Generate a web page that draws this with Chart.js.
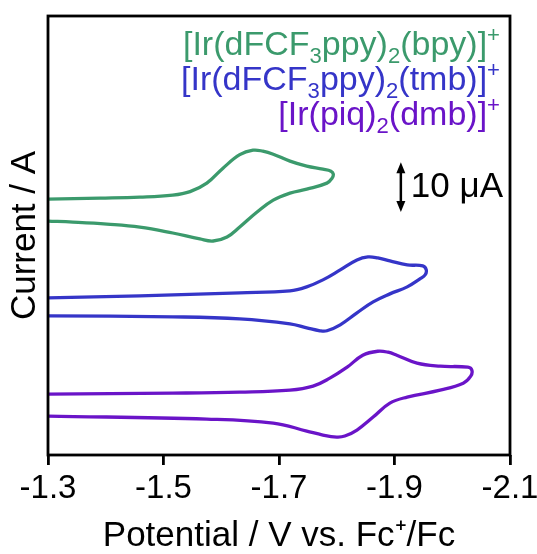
<!DOCTYPE html>
<html>
<head>
<meta charset="utf-8">
<script src="https://cdn.jsdelivr.net/npm/chart.js@4"></script>
<style>
  html, body { margin: 0; padding: 0; background: #fff; }
  #wrap { width: 537px; height: 554px; }
</style>
</head>
<body>
<div id="wrap"><canvas id="cvChart"></canvas></div>
<script>
// potential (V vs Fc+/Fc) and current (uA, offset for stacking)
const potentialBpy = [-1.300,-1.390,-1.459,-1.516,-1.546,-1.575,-1.603,-1.632,-1.655,-1.672,-1.690,-1.719,-1.748,-1.776,-1.790,-1.794,-1.792,-1.783,-1.748,-1.719,-1.690,-1.662,-1.632,-1.610,-1.586,-1.563,-1.516,-1.459,-1.402,-1.343,-1.300];
const currentBpy   = [51.3,51.5,51.7,52.1,52.8,54.5,57.5,60.2,61.1,60.9,60.3,58.9,57.9,57.3,56.9,56.3,55.5,54.5,53.3,52.5,51.1,48.7,45.7,43.7,42.9,43.3,44.5,45.7,46.3,46.7,46.9];

const potentialTmb = [-1.300,-1.459,-1.632,-1.719,-1.748,-1.776,-1.806,-1.835,-1.854,-1.871,-1.892,-1.922,-1.949,-1.955,-1.953,-1.944,-1.922,-1.892,-1.863,-1.835,-1.806,-1.783,-1.771,-1.748,-1.719,-1.632,-1.516,-1.300];
const currentTmb   = [31.5,31.9,32.5,32.9,33.7,35.1,37.1,39.1,39.7,39.5,38.9,38.1,37.9,37.1,36.1,35.3,33.7,32.3,30.7,28.5,26.1,24.9,24.9,25.5,26.3,27.3,27.7,27.9];

const potentialDmb = [-1.300,-1.516,-1.632,-1.719,-1.759,-1.788,-1.818,-1.845,-1.871,-1.889,-1.904,-1.939,-1.979,-2.027,-2.034,-2.032,-2.019,-1.979,-1.922,-1.892,-1.863,-1.835,-1.814,-1.800,-1.776,-1.748,-1.690,-1.575,-1.300];
const currentDmb   = [12.2,12.4,12.6,13.0,13.8,15.4,17.6,20.0,20.8,20.6,20.0,18.4,17.8,17.6,17.0,15.8,14.4,13.0,11.6,10.4,7.6,5.0,3.8,3.6,4.0,4.8,6.4,7.2,7.8];

const seriesColors = ['#3b9a6c', '#3535c8', '#6a14c8'];
// legend labels as [text, 'sub' | 'sup' | ''] pieces
const seriesLabels = [
  [['[Ir(dFCF',''],['3','sub'],['ppy)',''],['2','sub'],['(bpy)]',''],['+','sup']],
  [['[Ir(dFCF',''],['3','sub'],['ppy)',''],['2','sub'],['(tmb)]',''],['+','sup']],
  [['[Ir(piq)',''],['2','sub'],['(dmb)]',''],['+','sup']]
];

const xTicks = [-1.3, -1.5, -1.7, -1.9, -2.1];
const scaleBar = { potential: -1.911, current: 48.7, size: 10, label: '10 μA' };

const FONT = '"Liberation Sans", Arial, sans-serif';

function toPoints(xs, ys){ return xs.map((x, i) => ({ x, y: ys[i] })); }

const curves = [
  toPoints(potentialBpy, currentBpy),
  toPoints(potentialTmb, currentTmb),
  toPoints(potentialDmb, currentDmb)
];

// frame, legend text and the scale bar
const extras = {
  id: 'extras',
  afterDraw(chart){
    const ctx = chart.ctx;
    const a = chart.chartArea;
    ctx.save();
    ctx.strokeStyle = '#000';
    ctx.lineWidth = 2.8;
    ctx.strokeRect(a.left, a.top, a.right - a.left, a.bottom - a.top);

    // legend, right aligned
    const fs = 34;
    const baselines = [55, 90, 125];
    const rightX = 500;
    ctx.textBaseline = 'alphabetic';
    ctx.textAlign = 'left';
    seriesLabels.forEach((parts, k) => {
      let w = 0;
      parts.forEach(([t, m]) => {
        ctx.font = (m ? fs * 0.65 : fs) + 'px ' + FONT;
        w += ctx.measureText(t).width;
      });
      let x = rightX - w;
      ctx.fillStyle = seriesColors[k];
      parts.forEach(([t, m]) => {
        ctx.font = (m ? fs * 0.65 : fs) + 'px ' + FONT;
        let dy = 0;
        if (m === 'sub') dy = fs * 0.24;
        if (m === 'sup') dy = -fs * 0.38;
        ctx.fillText(t, x, baselines[k] + dy);
        x += ctx.measureText(t).width;
      });
    });

    // scale bar
    const xs = chart.scales.x, ys = chart.scales.y;
    const bx = xs.getPixelForValue(scaleBar.potential);
    const y1 = ys.getPixelForValue(scaleBar.current);
    const y2 = ys.getPixelForValue(scaleBar.current + scaleBar.size);
    ctx.fillStyle = '#000';
    ctx.lineWidth = 2.5;
    ctx.beginPath();
    ctx.moveTo(bx, y2 + 6);
    ctx.lineTo(bx, y1 - 6);
    ctx.stroke();
    ctx.beginPath();
    ctx.moveTo(bx, y2); ctx.lineTo(bx - 4.5, y2 + 11); ctx.lineTo(bx + 4.5, y2 + 11); ctx.closePath();
    ctx.fill();
    ctx.beginPath();
    ctx.moveTo(bx, y1); ctx.lineTo(bx - 4.5, y1 - 11); ctx.lineTo(bx + 4.5, y1 - 11); ctx.closePath();
    ctx.fill();
    ctx.font = '35px ' + FONT;
    ctx.textBaseline = 'middle';
    ctx.fillText(scaleBar.label, bx + 10, (y1 + y2) / 2);
    ctx.restore();
  }
};

new Chart(document.getElementById('cvChart'), {
  type: 'scatter',
  data: {
    datasets: curves.map((pts, i) => ({
      data: pts,
      showLine: true,
      borderColor: seriesColors[i],
      borderWidth: 3.3,
      pointRadius: 0,
      tension: 0.4,
      fill: false
    }))
  },
  options: {
    responsive: true,
    maintainAspectRatio: false,
    animation: false,
    layout: { padding: { top: 16, right: 27, left: 0, bottom: 0 } },
    plugins: { legend: { display: false }, tooltip: { enabled: false } },
    scales: {
      x: {
        type: 'linear',
        min: -2.1, max: -1.3,
        reverse: true,
        afterBuildTicks: s => { s.ticks = xTicks.map(v => ({ value: v })); },
        afterFit: s => { s.height = 99; s.paddingLeft = 0; s.paddingRight = 0; },
        grid: { drawOnChartArea: false, drawTicks: true, tickLength: 10, lineWidth: 2.8, color: '#000' },
        border: { display: false },
        ticks: {
          color: '#000', padding: 4,
          font: { family: FONT, size: 33 },
          callback: v => v.toFixed(1)
        },
        title: {
          display: true, text: 'Potential / V vs. Fc⁺/Fc', color: '#000',
          font: { family: FONT, size: 35, lineHeight: 1 }, padding: { top: 0, bottom: 0 }
        }
      },
      y: {
        min: 0, max: 88,
        afterFit: s => { s.width = 48; },
        grid: { display: false },
        border: { display: false },
        ticks: { display: false },
        title: {
          display: true, text: 'Current / A', color: '#000',
          font: { family: FONT, size: 35, lineHeight: 1.2 }, padding: { top: 4, bottom: 0 }
        }
      }
    }
  },
  plugins: [extras]
});
</script>
</body>
</html>
